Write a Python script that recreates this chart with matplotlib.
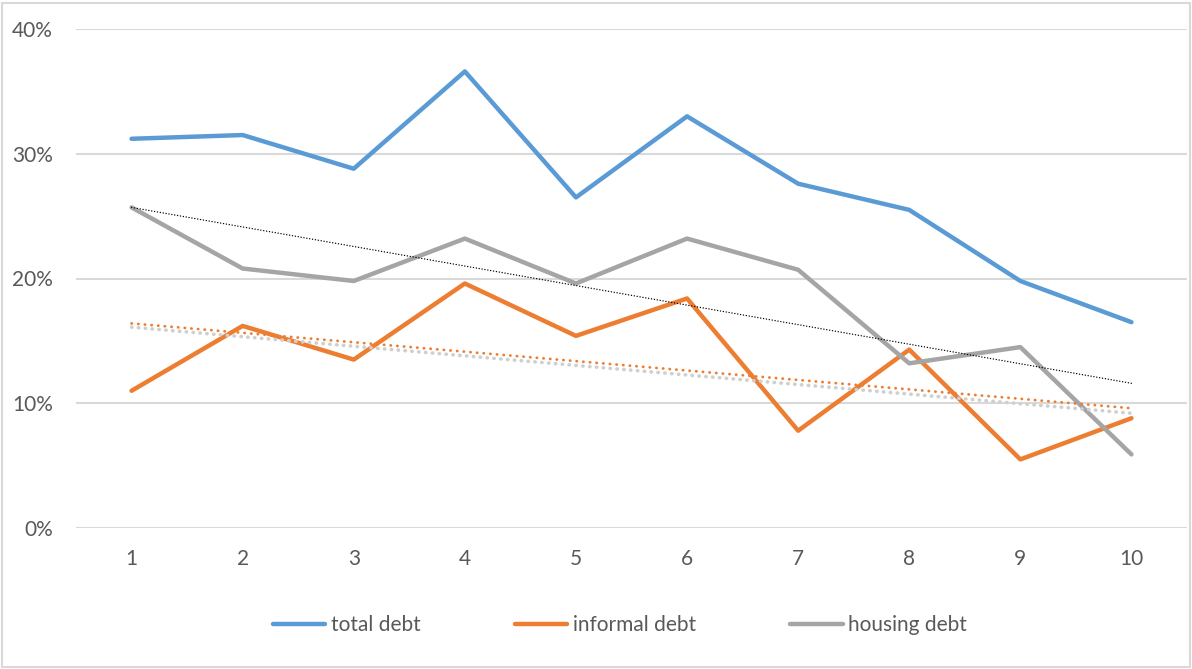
import matplotlib.pyplot as plt
from matplotlib.patches import Rectangle
from matplotlib.ticker import PercentFormatter
import numpy as np

plt.rcParams['font.family'] = ['Lato', 'DejaVu Sans']

# data
groups = np.arange(1, 11)
total_debt = [31.2, 31.5, 28.8, 36.6, 26.5, 33.0, 27.6, 25.5, 19.8, 16.5]
informal_debt = [11.0, 16.2, 13.5, 19.6, 15.4, 18.4, 7.8, 14.3, 5.5, 8.8]
housing_debt = [25.7, 20.8, 19.8, 23.2, 19.6, 23.2, 20.7, 13.2, 14.5, 5.9]

# trendline end points (x = 1 and x = 10)
trend_x = [1, 10]
trend_black = [25.7, 11.6]
trend_orange = [16.4, 9.6]
trend_gray = [16.1, 9.2]

blue = '#5B9BD5'
orange = '#ED7D31'
gray = '#A5A5A5'
text_c = '#595959'

fig = plt.figure(figsize=(11.92, 6.69), dpi=100)
fig.patches.append(Rectangle((0.002, 0.003), 0.996, 0.993, transform=fig.transFigure,
                             fill=False, edgecolor='#D9D9D9', linewidth=1.5))
ax = fig.add_axes([76 / 1192, 1 - 528 / 669, (1187 - 76) / 1192, (528 - 29) / 669])

ax.plot(groups, total_debt, color=blue, lw=3.2, solid_capstyle='round', solid_joinstyle='round',
        label='total debt', zorder=3)
ax.plot(groups, informal_debt, color=orange, lw=3.2, solid_capstyle='round', solid_joinstyle='round',
        label='informal debt', zorder=3)
ax.plot(groups, housing_debt, color=gray, lw=3.2, solid_capstyle='round', solid_joinstyle='round',
        label='housing debt', zorder=3)

ax.plot(trend_x, trend_gray, color='#CFCFCF', lw=2.6, linestyle=(0, (0.1, 1.8)),
        dash_capstyle='round', zorder=4)
ax.plot(trend_x, trend_orange, color=orange, lw=2.0, linestyle=(0, (0.1, 2.3)),
        dash_capstyle='round', zorder=4)
ax.plot(trend_x, trend_black, color='black', lw=1.0, linestyle=(0, (0.1, 2.0)),
        dash_capstyle='round', zorder=4)

ax.set_xlim(0.5, 10.5)
ax.set_ylim(0, 40)
ax.set_yticks([0, 10, 20, 30, 40])
ax.yaxis.set_major_formatter(PercentFormatter(decimals=0))
ax.set_xticks(groups)
ax.grid(axis='y', color='#D9D9D9', lw=1.5)
ax.set_axisbelow(True)
for s in ax.spines.values():
    s.set_visible(False)
ax.tick_params(length=0, labelsize=15, colors=text_c)
ax.tick_params(axis='x', pad=15)
ax.tick_params(axis='y', pad=16.5)

leg = fig.legend(loc='center', bbox_to_anchor=(620 / 1192, 1 - 625 / 669), ncol=3,
                 frameon=False, fontsize=15, handlelength=2.5, handletextpad=0.25,
                 columnspacing=4.55)
for t in leg.get_texts():
    t.set_color(text_c)

fig.savefig('out.png', dpi=100)
